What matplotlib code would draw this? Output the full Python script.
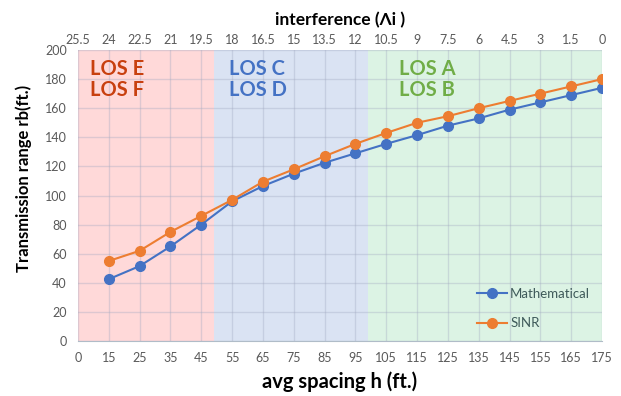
import matplotlib.pyplot as plt

plt.rcParams['font.family'] = ['Lato', 'DejaVu Sans']

spacing = [15, 25, 35, 45, 55, 65, 75, 85, 95, 105, 115, 125, 135, 145, 155, 165, 175]
mathematical = [42.5, 51.5, 65, 80, 96, 106.5, 115, 122.5, 129, 135.5, 141.5, 148, 153, 159, 164, 169, 174]
sinr = [55, 62, 75, 86, 97, 109.5, 118, 127, 135.5, 143, 150, 154.5, 160, 165, 170, 175, 180]

bottom_ticks = [5] + spacing
bottom_labels = ["0"] + [str(v) for v in spacing]
interference_labels = ["25.5", "24", "22.5", "21", "19.5", "18", "16.5", "15", "13.5",
                       "12", "10.5", "9", "7.5", "6", "4.5", "3", "1.5", "0"]

zones = [(5, 49, "#ffd9d9", "LOS E\nLOS F", "#c8400f", 9),
         (49, 99, "#dae3f3", "LOS C\nLOS D", "#4472c4", 54),
         (99, 175, "#dcf3e4", "LOS A\nLOS B", "#70ad47", 109)]

fig = plt.figure(figsize=(6.21, 3.96), dpi=100)
ax = fig.add_axes([0.1256, 0.1389, 0.8438, 0.7348])

for x0, x1, fc, txt, tc, tx in zones:
    ax.axvspan(x0, x1, color=fc, zorder=0, lw=0)
    ax.text(tx, 194, txt, color=tc, fontsize=14.5, fontweight='bold', va='top',
            ha='left', linespacing=1.1, zorder=3)

ax.plot(spacing, mathematical, '-o', color='#4472c4', lw=1.5, ms=7, label='Mathematical', zorder=4)
ax.plot(spacing, sinr, '-o', color='#ed7d31', lw=1.5, ms=7, label='SINR', zorder=4)

ax.set_xlim(5, 175)
ax.set_ylim(0, 200)
ax.set_xticks(bottom_ticks)
ax.set_xticklabels(bottom_labels)
ax.set_yticks(range(0, 201, 20))
ax.grid(True, color='#a0a8c0', alpha=0.35, lw=1)
for ln in ax.get_xgridlines() + ax.get_ygridlines():
    ln.set_zorder(1)
ax.tick_params(length=0, labelsize=9, colors='#595959', pad=8)
for s in ['top', 'right', 'left']:
    ax.spines[s].set_visible(False)
ax.spines['bottom'].set_color('#b0bcc8')

ax.set_xlabel("avg spacing h (ft.)", fontsize=14.5, fontweight='bold', labelpad=5)
ax.set_ylabel("Transmission range rb(ft.)", fontsize=12, fontweight='bold')
ax.yaxis.set_label_coords(-0.088, 0.56)

top = ax.twiny()
top.set_xlim(ax.get_xlim())
top.set_xticks(bottom_ticks)
top.set_xticklabels(interference_labels)
top.tick_params(length=0, labelsize=9, colors='#595959', pad=3)
for s in top.spines.values():
    s.set_visible(False)
top.set_xlabel("interference (Λi )", fontsize=12.5, fontweight='bold', labelpad=6)

leg = ax.legend(loc='lower right', bbox_to_anchor=(1.0, 0.0), frameon=False,
                fontsize=9.5, labelspacing=1.3, handlelength=2.3, handletextpad=0.2)
for t in leg.get_texts():
    t.set_color('#3f5a5a')

fig.savefig("out.png", dpi=100)
